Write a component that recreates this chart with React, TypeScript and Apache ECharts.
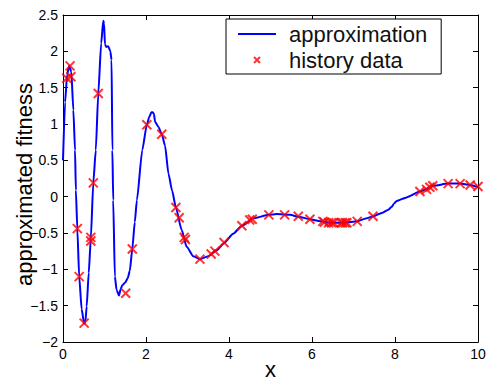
import React, { useEffect, useRef } from "react";
import * as echarts from "echarts";

const curveX = [0, 0.05, 0.1, 0.15, 0.2, 0.25, 0.29, 0.31, 0.345, 0.39, 0.45, 0.51, 0.54, 0.57, 0.62, 0.67, 0.73, 0.79, 0.85, 0.92, 0.97, 0.99, 1.01, 1.04, 1.09, 1.14, 1.17, 1.19, 1.21, 1.25, 1.29, 1.35, 1.39, 1.43, 1.5, 1.56, 1.61, 1.67, 1.73, 1.78, 1.91, 2.02, 2.08, 2.13, 2.16, 2.19, 2.22, 2.3, 2.38, 2.46, 2.54, 2.63, 2.72, 2.86, 2.98, 3.14, 3.3, 3.5, 3.7, 3.88, 4.1, 4.31, 4.58, 4.96, 5.15, 5.47, 5.7, 5.95, 6.2, 6.43, 6.8, 7.08, 7.3, 7.48, 7.7, 7.84, 7.92, 7.97, 8.04, 8.28, 8.6, 8.93, 9.28, 9.57, 9.81, 10];
const curveY = [0.5, 1.3, 1.68, 1.8, 1.72, 1.19, 0.64, 0.09, -0.44, -1.1, -1.55, -1.75, -1.72, -1.51, -1.05, -0.58, 0.19, 0.64, 1.42, 2.11, 2.42, 2.38, 2.1, 2.06, 2.07, 2.0, 1.88, 0.64, -0.05, -1.1, -1.28, -1.36, -1.27, -1.22, -1.18, -1.12, -1.02, -0.72, -0.35, -0.05, 0.64, 0.99, 1.1, 1.16, 1.16, 1.14, 1.03, 0.96, 0.86, 0.7, 0.32, 0.08, -0.15, -0.46, -0.69, -0.82, -0.86, -0.82, -0.74, -0.64, -0.51, -0.4, -0.3, -0.25, -0.24, -0.25, -0.28, -0.31, -0.34, -0.36, -0.36, -0.34, -0.3, -0.27, -0.22, -0.18, -0.14, -0.1, -0.06, -0.01, 0.07, 0.15, 0.18, 0.18, 0.16, 0.13];

const histX = [0.09, 0.17, 0.19, 0.345, 0.39, 0.51, 0.67, 0.67, 0.73, 0.85, 1.51, 1.67, 2.02, 2.38, 2.72, 2.8, 2.92, 2.95, 3.3, 3.57, 3.66, 3.88, 4.31, 4.5, 4.56, 4.96, 5.34, 5.67, 5.95, 6.26, 6.3, 6.4, 6.47, 6.52, 6.7, 6.74, 6.8, 6.84, 7.09, 7.47, 8.6, 8.76, 8.84, 8.91, 9.28, 9.57, 9.81, 10.0];
const histY = [1.63, 1.8, 1.65, -0.44, -1.1, -1.74, -0.56, -0.61, 0.19, 1.42, -1.33, -0.72, 0.99, 0.86, -0.15, -0.29, -0.56, -0.59, -0.86, -0.79, -0.75, -0.63, -0.4, -0.32, -0.31, -0.25, -0.25, -0.27, -0.31, -0.34, -0.35, -0.36, -0.36, -0.36, -0.36, -0.36, -0.36, -0.36, -0.34, -0.27, 0.07, 0.1, 0.13, 0.15, 0.18, 0.18, 0.16, 0.14];

const X_MIN = 0, X_MAX = 10, X_STEP = 2;
const Y_MIN = -2, Y_MAX = 2.5, Y_STEP = 0.5;

const FONT = "'Liberation Sans', Arial, Helvetica, sans-serif";
const CROSS = "path://M0,0L10,10M10,0L0,10";
const LINE_ICON = "path://M0,0L38,0L38,2L0,2Z";

const fmtNum = (v: number) => (v < 0 ? "\u2212" + String(Math.abs(v)) : String(v));

export default function App() {
  const ref = useRef<HTMLDivElement>(null);
  useEffect(() => {
    if (!ref.current) return;
    const chart = echarts.init(ref.current, null, { renderer: "svg" });
    const axisCommon = {
      type: "value" as const,
      axisLine: { show: true, onZero: false, lineStyle: { color: "#000", width: 1 } },
      axisTick: { show: true, inside: true, length: 5, lineStyle: { color: "#000" } },
      splitLine: { show: false },
    };
    chart.setOption({
      animation: false,
      backgroundColor: "#fff",
      textStyle: { fontFamily: FONT },
      grid: { left: 63, right: 10, top: 15, bottom: 40, containLabel: false, outerBoundsMode: "none" },
      xAxis: [
        {
          ...axisCommon,
          position: "bottom",
          min: X_MIN,
          max: X_MAX,
          interval: X_STEP,
          axisLabel: { color: "#000", fontSize: 14, margin: 5, fontFamily: FONT, formatter: fmtNum },
          name: "x",
          nameLocation: "middle",
          nameGap: 16,
          nameMoveOverlap: false,
          nameTextStyle: { color: "#000", fontSize: 22, fontFamily: FONT },
        },
        {
          ...axisCommon,
          position: "top",
          min: X_MIN,
          max: X_MAX,
          interval: X_STEP,
          axisLabel: { show: false },
        },
      ],
      yAxis: [
        {
          ...axisCommon,
          position: "left",
          min: Y_MIN,
          max: Y_MAX,
          interval: Y_STEP,
          axisLabel: { color: "#000", fontSize: 14, margin: 5, fontFamily: FONT, formatter: fmtNum },
          name: "approximated fitness",
          nameLocation: "middle",
          nameGap: 28,
          nameMoveOverlap: false,
          nameTextStyle: { color: "#000", fontSize: 22, fontFamily: FONT, padding: [0, 12, 0, 0] },
        },
        {
          ...axisCommon,
          position: "right",
          min: Y_MIN,
          max: Y_MAX,
          interval: Y_STEP,
          axisLabel: { show: false },
        },
      ],
      legend: {
        left: 226,
        top: 19,
        orient: "vertical",
        backgroundColor: "#fff",
        borderColor: "#000",
        borderWidth: 1,
        borderRadius: 0,
        padding: [4, 14, 3, 12],
        itemGap: 4,
        itemWidth: 38,
        itemHeight: 6,
        textStyle: { color: "#111", fontSize: 22, fontFamily: FONT, padding: [0, 0, 0, 8] },
        data: [
          { name: "approximation", icon: LINE_ICON, itemStyle: { color: "#0000ff", borderWidth: 0 } },
          { name: "history data", icon: CROSS },
        ],
      },
      series: [
        {
          name: "approximation",
          type: "line",
          data: curveX.map((x, i) => [x, curveY[i]]),
          showSymbol: false,
          symbol: "none",
          smooth: 0.2,
          smoothMonotone: "x",
          lineStyle: { color: "#0000ff", width: 2 },
          itemStyle: { color: "#0000ff" },
          z: 2,
        },
        {
          name: "history data",
          type: "scatter",
          data: histX.map((x, i) => [x, histY[i]]),
          symbol: CROSS,
          symbolSize: 9,
          itemStyle: { color: "#ff0000", borderColor: "#ff0000", borderWidth: 2 },
          z: 3,
        },
      ],
    });
    return () => chart.dispose();
  }, []);
  return (
    <div
      ref={ref}
      style={{ position: "fixed", left: 0, top: 0, width: 488, height: 382, background: "#fff" }}
    />
  );
}
